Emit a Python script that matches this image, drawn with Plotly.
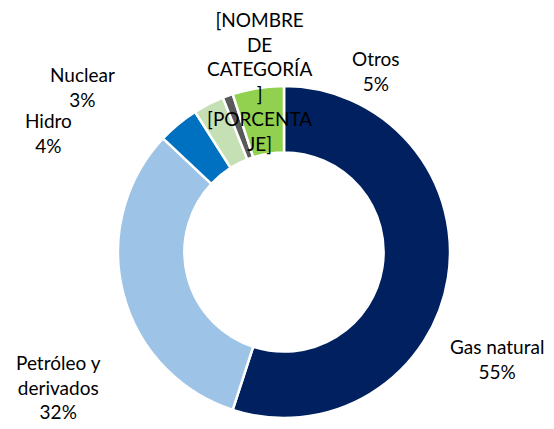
import plotly.graph_objects as go

# Matriz energética: participación por fuente
labels = ["Gas natural", "Petróleo y derivados", "Hidro", "Nuclear", "Categoría", "Otros"]
values = [55, 32, 4, 3, 1, 5]
colors = ["#002060", "#9DC3E6", "#0070C0", "#C5E0B4", "#595959", "#92D050"]

# texto mostrado en cada etiqueta (el gris queda con el marcador de Excel)
label_text = [
    "Gas natural<br>55%",
    "Petróleo y<br>derivados<br>32%",
    "Hidro<br>4%",
    "Nuclear<br>3%",
    "[NOMBRE<br>DE<br>CATEGORÍA<br>]<br>[PORCENTA<br>JE]",
    "Otros<br>5%",
]
# posición del centro de cada etiqueta en píxeles de la ventana (x, y desde arriba)
label_pos = [(497, 359), (58, 387), (48, 133), (82, 87), (259, 81), (376, 71)]

W, H = 554, 429
OFF = 8  # margen del body de la página


def px_x(x):
    return (x - OFF) / W


def px_y(y):
    return 1 - (y - OFF) / H


fig = go.Figure()
fig.add_trace(
    go.Pie(
        labels=labels,
        values=values,
        hole=0.6,
        sort=False,
        direction="clockwise",
        rotation=0,
        marker=dict(colors=colors, line=dict(color="white", width=2.5)),
        textinfo="none",
        hoverinfo="label+percent",
        domain=dict(x=[px_x(118), px_x(450)], y=[px_y(418), px_y(86)]),
        showlegend=False,
    )
)

for txt, (px, py) in zip(label_text, label_pos):
    fig.add_annotation(
        text=txt,
        x=px_x(px),
        y=px_y(py),
        xref="paper",
        yref="paper",
        showarrow=False,
        xanchor="center",
        yanchor="middle",
        align="center",
        font=dict(family="Lato", size=19, color="#000000"),
    )

fig.update_layout(
    width=W,
    height=H,
    margin=dict(l=0, r=0, t=0, b=0),
    paper_bgcolor="white",
    plot_bgcolor="white",
)

fig.write_html("out.html")
